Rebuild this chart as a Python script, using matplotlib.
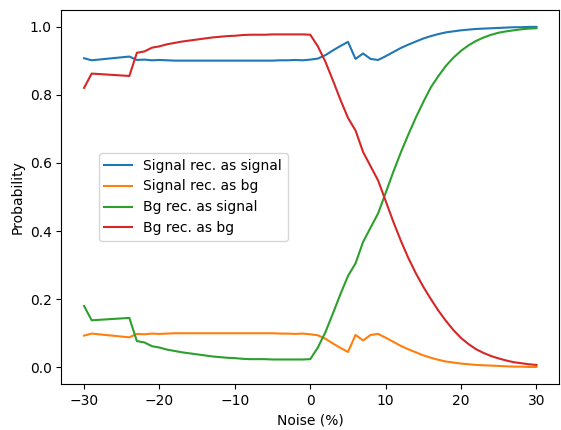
import matplotlib
matplotlib.use("Agg")
import matplotlib.pyplot as plt

noise = [-30, -29, -24, -23, -22, -21, -20, -19, -18, -17, -16, -15, -14, -13, -12,
         -11, -10, -9, -8, -7, -6, -5, -4, -3, -2, -1, 0, 1, 2, 3, 4, 5, 6, 7, 8, 9,
         10, 11, 12, 13, 14, 15, 16, 17, 18, 19, 20, 21, 22, 23, 24, 25, 26, 27, 28,
         29, 30]

sig_as_sig = [0.907, 0.901, 0.912, 0.902, 0.903, 0.901, 0.902, 0.901, 0.900, 0.900,
              0.900, 0.900, 0.900, 0.900, 0.900, 0.900, 0.900, 0.900, 0.900, 0.900,
              0.900, 0.900, 0.901, 0.901, 0.902, 0.901, 0.903, 0.906, 0.916, 0.930,
              0.943, 0.955, 0.905, 0.921, 0.905, 0.902, 0.913, 0.925, 0.937, 0.947,
              0.956, 0.965, 0.972, 0.978, 0.983, 0.986, 0.989, 0.991, 0.993, 0.994,
              0.995, 0.996, 0.997, 0.998, 0.998, 0.999, 0.999]

sig_as_bg = [0.093, 0.099, 0.088, 0.098, 0.097, 0.099, 0.098, 0.099, 0.100, 0.100,
             0.100, 0.100, 0.100, 0.100, 0.100, 0.100, 0.100, 0.100, 0.100, 0.100,
             0.100, 0.100, 0.099, 0.099, 0.098, 0.099, 0.097, 0.094, 0.084, 0.070,
             0.057, 0.045, 0.095, 0.079, 0.095, 0.098, 0.087, 0.075, 0.063, 0.053,
             0.044, 0.035, 0.028, 0.022, 0.017, 0.014, 0.011, 0.009, 0.007, 0.006,
             0.005, 0.004, 0.003, 0.002, 0.002, 0.001, 0.001]

bg_as_sig = [0.180, 0.138, 0.145, 0.077, 0.073, 0.062, 0.058, 0.052, 0.048, 0.044,
             0.041, 0.038, 0.035, 0.032, 0.030, 0.028, 0.027, 0.025, 0.024, 0.024,
             0.024, 0.023, 0.023, 0.023, 0.023, 0.023, 0.024, 0.058, 0.103, 0.158,
             0.215, 0.268, 0.305, 0.368, 0.410, 0.452, 0.512, 0.573, 0.630, 0.683,
             0.733, 0.779, 0.822, 0.855, 0.885, 0.909, 0.929, 0.945, 0.958, 0.968,
             0.976, 0.982, 0.986, 0.989, 0.992, 0.994, 0.995]

bg_as_bg = [0.820, 0.862, 0.855, 0.923, 0.927, 0.938, 0.942, 0.948, 0.952, 0.956,
            0.959, 0.962, 0.965, 0.968, 0.970, 0.972, 0.973, 0.975, 0.976, 0.976,
            0.976, 0.977, 0.977, 0.977, 0.977, 0.977, 0.976, 0.942, 0.897, 0.842,
            0.785, 0.732, 0.695, 0.632, 0.590, 0.548, 0.488, 0.428, 0.372, 0.321,
            0.276, 0.236, 0.200, 0.166, 0.136, 0.109, 0.086, 0.068, 0.053, 0.042,
            0.033, 0.026, 0.020, 0.015, 0.012, 0.009, 0.007]

labels = ["Signal rec. as signal", "Signal rec. as bg", "Bg rec. as signal", "Bg rec. as bg"]

fig = plt.figure(figsize=(5.61, 4.30), dpi=100)
ax = fig.add_axes([0.1096, 0.107, 0.887, 0.870])
for ys, lab in zip([sig_as_sig, sig_as_bg, bg_as_sig, bg_as_bg], labels):
    ax.plot(noise, ys, label=lab)
ax.set_xlabel("Noise (%)")
ax.set_ylabel("Probability")
ax.legend(loc="center left", bbox_to_anchor=(0.061, 0.5))
fig.savefig("out.png", dpi=100)
